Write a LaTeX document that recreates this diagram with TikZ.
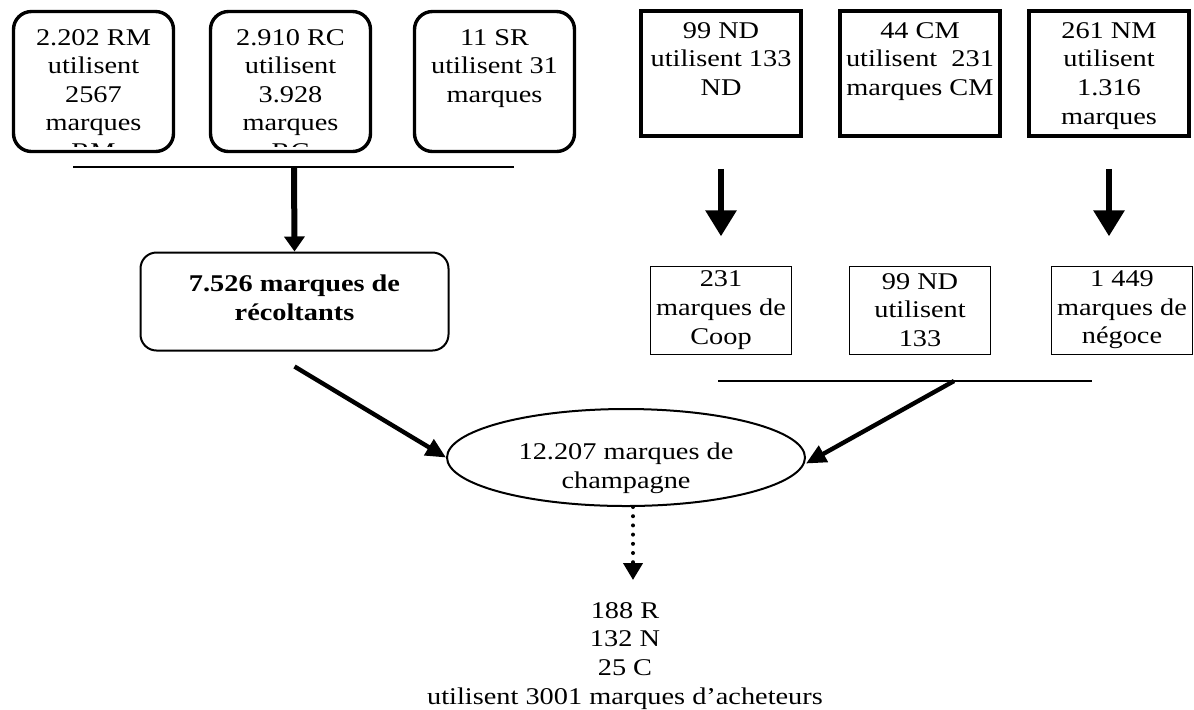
\documentclass[tikz,border=0pt]{standalone}
\usepackage{fontspec}
\setmainfont{Liberation Serif}[FakeStretch=1.18]
\usetikzlibrary{arrows.meta, positioning, shapes.geometric}

\begin{document}
\begin{tikzpicture}[
  x=0.5pt, y=-0.5pt,
  font=\fontsize{12}{14.3}\selectfont,
  rbox/.style={
    rectangle, draw, line width=1.7pt, rounded corners=9pt,
    minimum width=80pt, minimum height=70pt, inner sep=0pt
  },
  sbox/.style={
    rectangle, draw, line width=1.8pt,
    minimum width=80.2pt, minimum height=62.7pt, inner sep=0pt
  },
  tbox/.style={
    rectangle, draw, line width=0.5pt, align=center,
    minimum width=70.5pt, minimum height=44pt, inner sep=0pt
  },
  recbox/.style={
    rectangle, draw, line width=1pt, rounded corners=8pt,
    minimum width=154pt, minimum height=49pt
  },
  ell/.style={
    ellipse, draw, line width=1pt, minimum width=179pt,
    minimum height=48.5pt, inner sep=0pt
  },
  txt/.style={align=center, inner sep=0pt},
  hline/.style={line width=1pt},
  bigarrow/.style={line width=3pt, -{Triangle[width=15pt, length=13pt]}},
  midarrow/.style={line width=3pt, -{Triangle[width=10pt, length=7.5pt]}},
  diagarrow/.style={line width=2.2pt, -{Triangle[width=9pt, length=10pt]}},
  dotarrow/.style={
    line width=2pt, line cap=round, dash pattern=on 0pt off 4.6pt,
    -{Triangle[width=9.5pt, length=8.5pt]}
  }
]
\useasboundingbox (0,0) rectangle (1194,709);

% producteurs (recoltants)
\node[rbox] (rm) at (93.5,81.5) {};
\node[rbox] (rc) at (290.5,81.5) {};
\node[rbox] (sr) at (494.5,81.5) {};
\begin{scope}
  \clip ([yshift=3.5pt]rm.south west) rectangle (rm.north east);
  \node[txt, below=9.5pt of rm.north] (rmt) {2.202 RM\\utilisent\\2567\\marques\\RM};
\end{scope}
\begin{scope}
  \clip ([yshift=3.5pt]rc.south west) rectangle (rc.north east);
  \node[txt, below=9.5pt of rc.north] (rct) {2.910 RC\\utilisent\\3.928\\marques\\RC};
\end{scope}
\node[txt, below=9.5pt of sr.north] (srt) {11 SR\\utilisent 31\\marques};

% negociants et cooperatives
\node[sbox] (nd) at (721,73.5) {};
\node[sbox] (cm) at (920,73.5) {};
\node[sbox] (nm) at (1109,73.5) {};
\node[txt, below=6.5pt of nd.north] (ndt) {99 ND\\utilisent 133\\ND};
\node[txt, below=6.5pt of cm.north] (cmt) {44 CM\\utilisent~ 231\\marques CM};
\node[txt, below=6.5pt of nm.north] (nmt) {261 NM\\utilisent\\1.316\\marques};

% totaux
\node[recbox] (rec) at (294.5,301.5) {};
\node[txt, font=\fontsize{12}{14.3}\selectfont\bfseries, yshift=2pt] (rect) at (rec.center)
  {7.526 marques de\\récoltants};
\node[tbox] (coop) at (721,310) {231\\marques de\\Coop};
\node[tbox] (nd2) at (920,310) {99 ND\\utilisent\\133};
\node[tbox] (neg) at (1122,310) {1 449\\marques de\\négoce};

\node[ell] (champ) at (626,457.5) {};
\node[txt, yshift=-5.5pt] (champt) at (champ.center) {12.207 marques de\\champagne};

\node[txt, anchor=north] (acheteurs) at (625,602)
  {188 R\\132 N\\25 C\\utilisent 3001 marques d’acheteurs};

% barres
\coordinate (lbarl) at (73,167);
\coordinate (lbarr) at (514,167);
\coordinate (lbar) at (294,167);
\coordinate (rbarl) at (718,381);
\coordinate (rbarr) at (1092,381);
\coordinate (rbar) at (954,381);
\draw[hline] (lbarl) -- (lbarr);
\draw[hline, line width=0.8pt] (rbarl) -- (rbarr);

% fleches
\draw[midarrow] (lbar) -- (rec.north);
\draw[bigarrow, shorten <=15.4pt, shorten >=14.6pt] (nd.south) -- (coop.north);
\draw[bigarrow, shorten <=15.4pt, shorten >=14.6pt] (nm.south) -- (nm.south |- neg.north);
\draw[diagarrow] ([yshift=-7.5pt]rec.south) -- (champ.west);
\draw[diagarrow] (rbar) -- ([yshift=-3pt]champ.east);
\draw[dotarrow] ([xshift=3.5pt]champ.south) -- ([xshift=4pt, yshift=11pt]acheteurs.north);

\end{tikzpicture}
\end{document}
